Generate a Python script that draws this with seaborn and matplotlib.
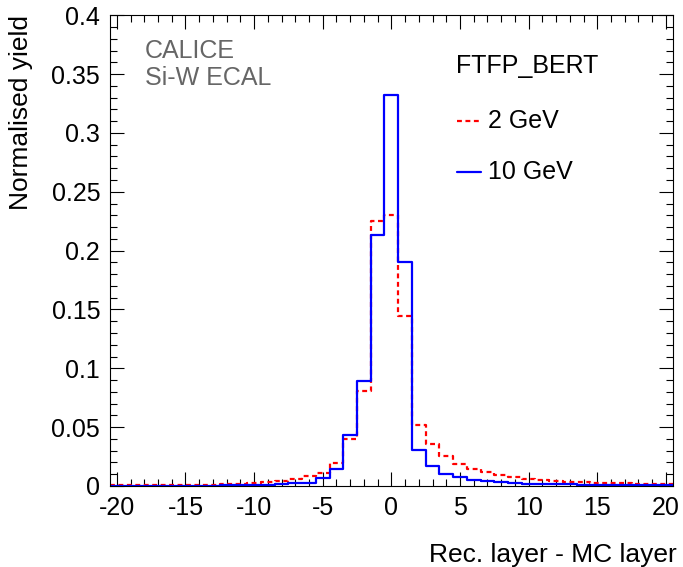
import numpy as np
import pandas as pd
import seaborn as sns
import matplotlib
matplotlib.use("Agg")
import matplotlib.pyplot as plt
from matplotlib.ticker import MultipleLocator

sns.set_theme(style="white")
plt.rcParams['font.family'] = ['Liberation Sans', 'DejaVu Sans']
plt.rcParams['axes.unicode_minus'] = False
plt.rcParams['text.color'] = 'black'
plt.rcParams['axes.labelcolor'] = 'black'
plt.rcParams['xtick.color'] = 'black'
plt.rcParams['ytick.color'] = 'black'

# layer difference bins (centres), width 1
layer_diff = list(range(-20, 21))

yield_2gev = [0.0004, 0.0004, 0.0005, 0.0005, 0.0006, 0.0007, 0.0009, 0.0011, 0.0015, 0.0018,
              0.0026, 0.0035, 0.0043, 0.0055, 0.0083, 0.0112, 0.0196, 0.0397, 0.0811, 0.2250,
              0.2306,
              0.1440, 0.0516, 0.0355, 0.0255, 0.0190, 0.0145, 0.0122, 0.0091, 0.0074, 0.0060,
              0.0051, 0.0040, 0.0037, 0.0030, 0.0025, 0.0023, 0.0022, 0.0018, 0.0017, 0.0015]

yield_10gev = [0.0002, 0.0002, 0.0002, 0.0002, 0.0002, 0.0003, 0.0003, 0.0003, 0.0004, 0.0005,
               0.0006, 0.0008, 0.0014, 0.0023, 0.0028, 0.0065, 0.0143, 0.0430, 0.0893, 0.2136,
               0.3320,
               0.1906, 0.0306, 0.0170, 0.0105, 0.0079, 0.0051, 0.0040, 0.0030, 0.0027, 0.0020,
               0.0018, 0.0016, 0.0014, 0.0012, 0.0010, 0.0008, 0.0007, 0.0006, 0.0005, 0.0004]

df = pd.DataFrame({"diff": layer_diff, "y2": yield_2gev, "y10": yield_10gev})
bins = [b - 0.5 for b in range(-20, 22)]

fig = plt.figure(figsize=(6.83, 5.67), dpi=100)
ax = fig.add_axes([0.161, 0.143, 0.824, 0.830])

sns.histplot(data=df, x="diff", weights="y2", bins=bins, element="step", fill=False,
             color="#ff0000", linewidth=1.6, linestyle=(0, (2.2, 1.6)), ax=ax)
sns.histplot(data=df, x="diff", weights="y10", bins=bins, element="step", fill=False,
             color="#0000ff", linewidth=1.6, ax=ax)

ax.set_xlim(-20.5, 20.5)
ax.set_ylim(0, 0.4)
ax.xaxis.set_major_locator(MultipleLocator(5))
ax.xaxis.set_minor_locator(MultipleLocator(1))
ax.yaxis.set_minor_locator(MultipleLocator(0.01))
ax.set_yticks([0, 0.05, 0.1, 0.15, 0.2, 0.25, 0.3, 0.35, 0.4])
ax.set_yticklabels(["0", "0.05", "0.1", "0.15", "0.2", "0.25", "0.3", "0.35", "0.4"])
ax.tick_params(which="both", direction="in", top=True, right=True, bottom=True, left=True,
               width=0.8, color="black")
ax.tick_params(which="major", length=10, labelsize=18, pad=7)
ax.tick_params(which="minor", length=5)
for s in ax.spines.values():
    s.set_color("black")
    s.set_linewidth(0.8)

ax.set_xlabel("Rec. layer - MC layer", fontsize=19, loc="right")
ax.xaxis.set_label_coords(1.007, -0.121)
ax.set_ylabel("Normalised yield", fontsize=19, loc="top")
ax.yaxis.set_label_coords(-0.137, 1.0)

ax.text(0.062, 0.895, "CALICE\nSi-W ECAL", transform=ax.transAxes, fontsize=18,
        color="#666666", va="center", ha="left", linespacing=1.15)
ax.text(0.615, 0.893, "FTFP_BERT", transform=ax.transAxes, fontsize=18,
        color="black", va="center", ha="left")

# legend entries drawn by hand, ROOT style
ax.plot([0.617, 0.66], [0.775, 0.775], transform=ax.transAxes, color="#ff0000",
        linewidth=1.6, linestyle=(0, (2.2, 1.6)))
ax.text(0.672, 0.775, "2 GeV", transform=ax.transAxes, fontsize=18, va="center", ha="left")
ax.plot([0.617, 0.66], [0.668, 0.668], transform=ax.transAxes, color="#0000ff",
        linewidth=1.6)
ax.text(0.672, 0.668, "10 GeV", transform=ax.transAxes, fontsize=18, va="center", ha="left")

fig.savefig("out.png", dpi=100)
